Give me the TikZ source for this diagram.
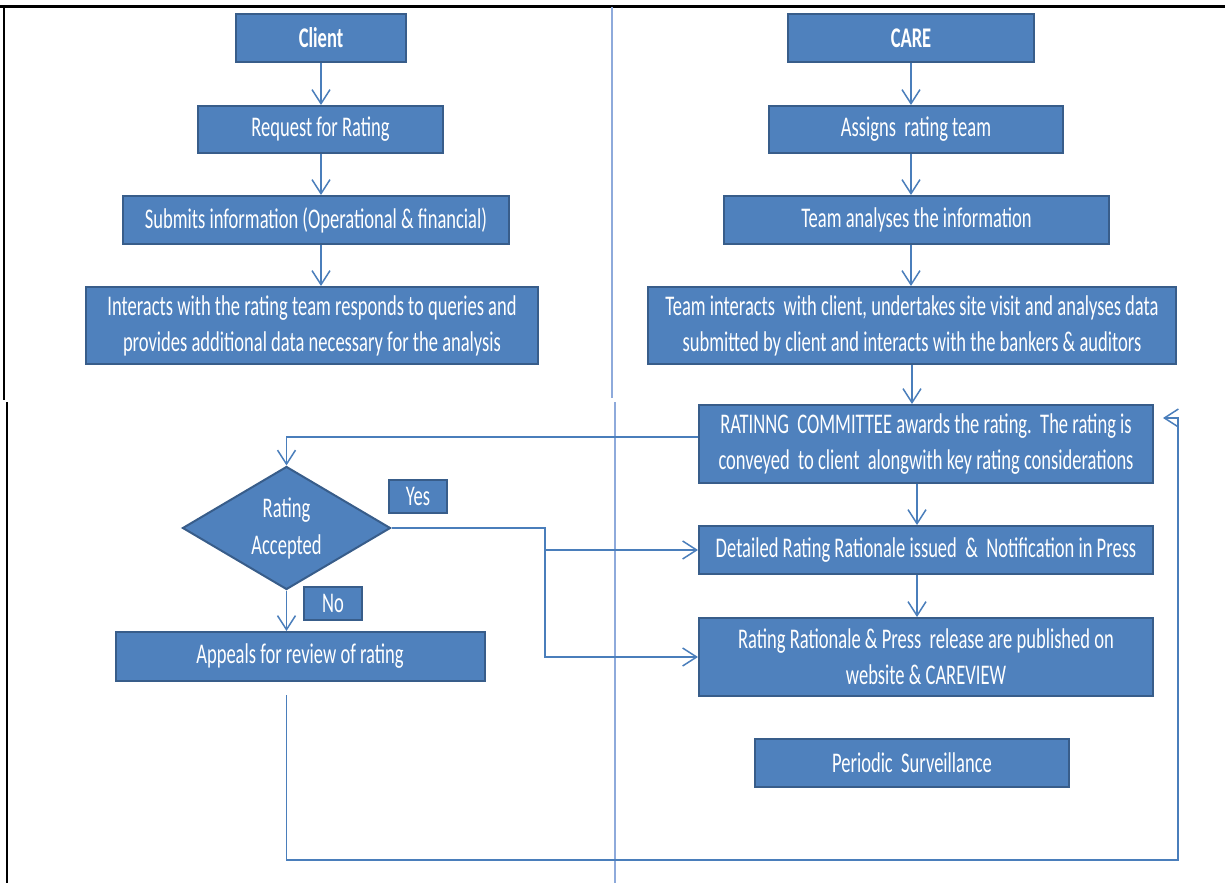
\documentclass[tikz,border=0pt]{standalone}
\usepackage{fontspec}
\setmainfont{Carlito}[FakeStretch=0.65]
\usepackage{tikz}
\usetikzlibrary{arrows.meta,shapes.geometric}
\definecolor{boxblue}{HTML}{4F81BD}
\definecolor{boxedge}{HTML}{385D8A}
\definecolor{lineblue}{HTML}{4A7EBB}
\definecolor{rulblue}{HTML}{8EAADB}
\tikzset{
  box/.style={rectangle,fill=boxblue,draw=boxedge,line width=1pt,text=white,
    align=center,inner sep=0pt,font=\fontsize{14.25}{18}\selectfont},
  decision/.style={diamond,aspect=1.7,fill=boxblue,draw=boxedge,line width=1pt,
    text=white,align=center,inner sep=0pt,minimum width=104pt,minimum height=61.5pt,
    font=\fontsize{14.25}{18.5}\selectfont},
  tag/.style={box,minimum width=29pt,minimum height=16.5pt},
  flow/.style={draw=lineblue,line width=0.75pt},
  >={Straight Barb[length=7pt,width=9pt,line width=0.75pt]}
}
\begin{document}
\begin{tikzpicture}[x=0.5pt,y=-0.5pt]
\useasboundingbox (0,0) rectangle (1225,883);
% frame and divider
\draw[line width=1.5pt] (0,7)--(1225,7);
\draw[line width=1pt] (4,7)--(4,400) (7,402)--(7,883);
\draw[rulblue,line width=0.9pt] (612,7)--(612,398) (615,402)--(615,883);
% client side
\node[box,minimum width=85pt,minimum height=24pt,font=\fontsize{14.25}{18}\selectfont\bfseries] (client) at (321,38) {Client};
\node[box,minimum width=122.5pt,minimum height=23.5pt] (req) at (320.5,129.5) {Request for Rating};
\node[box,minimum width=193pt,minimum height=24pt] (sub) at (316,220) {Submits information (Operational \& financial)};
\node[box,minimum width=226pt,minimum height=38.5pt] (inter) at (312,325.5)
  {Interacts with the rating team responds to queries and\\provides additional data necessary for the analysis};
\node[decision] (dec) at (286.5,528) {Rating\\Accepted};
\node[tag] (yes) at (418,496.5) {Yes};
\node[tag] (no) at (333,603.5) {No};
\node[box,minimum width=184.5pt,minimum height=24.5pt] (appeal) at (300,656.5) {Appeals\ for review\ of rating};
% CARE side
\node[box,minimum width=123pt,minimum height=24pt,font=\fontsize{14.25}{18}\selectfont\bfseries] (care) at (911,38) {CARE};
\node[box,minimum width=147pt,minimum height=23.5pt] (assign) at (916,129.5) {Assigns\ \ rating team};
\node[box,minimum width=192.5pt,minimum height=24pt] (anal) at (916.5,220) {Team analyses the information};
\node[box,minimum width=264pt,minimum height=38.5pt] (tinter) at (912,325.5)
  {Team interacts\ \ with client, undertakes site visit and analyses data\\submitted by client and interacts with the bankers \& auditors};
\node[box,minimum width=227pt,minimum height=39pt] (rat) at (926,444)
  {RATINNG\ \ COMMITTEE awards the rating.\ \ The rating is\\conveyed\ \ to client\ \ alongwith key rating considerations};
\node[box,minimum width=227pt,minimum height=24pt] (det) at (926,550)
  {Detailed Rating Rationale issued\ \ \&\ \ Notification in Press};
\node[box,minimum width=227pt,minimum height=39pt] (pub) at (926,657)
  {Rating Rationale \& Press\ \ release are published on\\website \& CAREVIEW};
\node[box,minimum width=157pt,minimum height=24pt] (per) at (912,763) {Periodic\ \ Surveillance};
% connectors
\draw[flow,->] (client.south)--(client.south |- req.north);
\draw[flow,->] (client.south |- req.south)--(client.south |- sub.north);
\draw[flow,->] (client.south |- sub.south)--(client.south |- inter.north);
\draw[flow,->] (care.south)--(care.south |- assign.north);
\draw[flow,->] (care.south |- assign.south)--(care.south |- anal.north);
\draw[flow,->] (care.south |- anal.south)--(care.south |- tinter.north);
\draw[flow,->] (tinter.south)--(tinter.south |- rat.north);
\draw[flow,->] ([xshift=-4.5pt]rat.south)--([xshift=-4.5pt]det.north);
\draw[flow,->] ([xshift=-4.5pt]det.south)--([xshift=-4.5pt]pub.north);
\draw[flow,->] ([yshift=3.5pt]rat.west) -| (dec.north);
\coordinate (yj) at (545,528);
\draw[flow,->] (dec.east)--(yj) |- (pub.west);
\draw[flow,->] (yj |- det.west)--(det.west);
\draw[flow,->] (dec.south)--(dec.south |- appeal.north);
\path (dec.south |- appeal.south) ++(0,13) coordinate (ab);
\coordinate (fb) at (1178,860);
\draw[flow,->] (ab)--(ab |- fb)--(fb) |- ([xshift=4.5pt,yshift=13pt]rat.east);
\end{tikzpicture}
\end{document}
